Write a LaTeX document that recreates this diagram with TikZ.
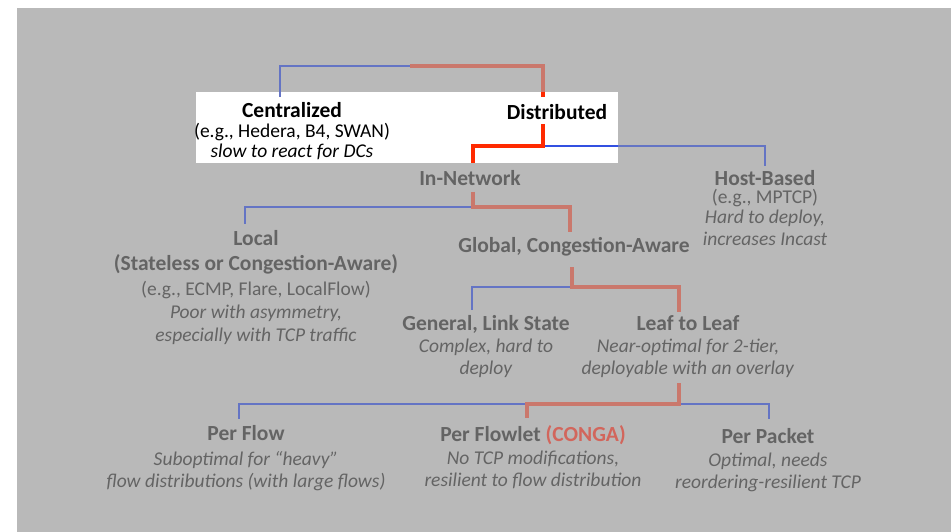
\documentclass[tikz,border=0pt]{standalone}
\usepackage{fontspec}
\setmainfont{Carlito}
\definecolor{slidegray}{RGB}{185,185,185}
\definecolor{dimtext}{RGB}{100,100,100}
\definecolor{dimred}{RGB}{202,120,108}
\definecolor{dimblue}{RGB}{100,116,196}
\definecolor{hotred}{RGB}{255,42,0}
\definecolor{hotblue}{RGB}{50,80,225}
% heading line of a label
\newcommand{\ttl}[1]{{\fontsize{21.5}{22}\selectfont\bfseries #1}}
\begin{document}
\begin{tikzpicture}[x=1pt,y=-1pt,
  lbl/.style={inner sep=0pt,align=center,text=dimtext,font=\fontsize{19.5}{22}\selectfont},
  hot/.style={lbl,text=black},
  chosen/.style={draw=dimred,line width=4pt},
  chosenhot/.style={draw=hotred,line width=4.5pt},
  other/.style={draw=dimblue,line width=1.4pt},
  otherhot/.style={draw=hotblue,line width=1.4pt}]
\useasboundingbox (0,0) rectangle (951,532);
\fill[white] (0,0) rectangle (951,532);
\fill[slidegray] (17,8) rectangle (951,532);

% junction points of the tree
\coordinate (t1) at (280,66);
\coordinate (t2) at (410,66);
\coordinate (t3) at (543,66);
\coordinate (cenTop) at (280,97);
\coordinate (distTop) at (543,97);
\coordinate (boxTop) at (543,92);
\coordinate (distBot) at (543,124);
\coordinate (d1) at (543,146);
\coordinate (d2) at (473,146);
\coordinate (boxEdge) at (618,146);
\coordinate (d3) at (765,146);
\coordinate (hostTop) at (765,166);
\coordinate (innetTop) at (473,163);
\coordinate (innetBot) at (473,192);
\coordinate (n1) at (473,207);
\coordinate (n2) at (570,207);
\coordinate (n3) at (245,207);
\coordinate (globalTop) at (570,232);
\coordinate (localTop) at (245,224);
\coordinate (globalBot) at (572,267);
\coordinate (g1) at (572,287);
\coordinate (g2) at (679,287);
\coordinate (g3) at (472,287);
\coordinate (leafTop) at (679,312);
\coordinate (generalTop) at (472,310);
\coordinate (leafBot) at (679,383);
\coordinate (l1) at (679,404);
\coordinate (l2) at (527,404);
\coordinate (l3) at (239,404);
\coordinate (l4) at (769,404);
\coordinate (flowletTop) at (527,418);
\coordinate (flowTop) at (239,419);
\coordinate (packetTop) at (769,419);

% connectors in the dimmed area
\path[other] (cenTop) -- (t1) -- (t2);
\path[chosen] (t2) -- (t3) -- (boxTop);
\path[other] (d1) -- (d3) -- (hostTop);
\path[other] (n1) -- (n3) -- (localTop);
\path[chosen] (innetBot) -- (n1) -- (n2) -- (globalTop);
\path[other] (g1) -- (g3) -- (generalTop);
\path[chosen] (globalBot) -- (g1) -- (g2) -- (leafTop);
\path[other] (l2) -- (l3) -- (flowTop);
\path[other] (l1) -- (l4) -- (packetTop);
\path[chosen] (leafBot) -- (l1) -- (l2) -- (flowletTop);

% highlighted top level
\fill[white] (196,92) rectangle (618,163);
\path[other] (t1) -- (cenTop);
\path[chosenhot] (boxTop) -- (distTop);
\path[otherhot] (d1) -- (boxEdge);
\path[chosenhot] (distBot) -- (d1) -- (d2) -- (innetTop);

% labels
\node[hot] (cen) at (292,131) {\ttl{Centralized}\\[-2pt](e.g., Hedera, B4, SWAN)\\[-2pt]\textit{slow to react for DCs}};
\node[hot] (dist) at (557,112) {\ttl{Distributed}};
\node[lbl] (innet) at (470,178) {\ttl{In-Network}};
\node[lbl] (host) at (765,208) {\ttl{Host-Based}\\[-4pt](e.g., MPTCP)\\[-2pt]\textit{Hard to deploy,}\\\textit{increases Incast}};
\node[lbl] (local) at (256,288) {\ttl{Local}\\[3pt]\ttl{(Stateless or Congestion-Aware)}\\[3pt](e.g., ECMP, Flare, LocalFlow)\\[1pt]\textit{Poor with asymmetry,}\\[1pt]\textit{especially with TCP traffic}};
\node[lbl] (global) at (574,247) {\ttl{Global, Congestion-Aware}};
\node[lbl] (general) at (486,347) {\ttl{General, Link State}\\\textit{Complex, hard to}\\\textit{deploy}};
\node[lbl] (leaf) at (688,347) {\ttl{Leaf to Leaf}\\\textit{Near-optimal for 2-tier,}\\\textit{deployable with an overlay}};
\node[lbl] (flow) at (246,458) {\ttl{Per Flow}\\[3pt]\textit{Suboptimal for “heavy”}\\\textit{flow distributions (with large flows)}};
\node[lbl] (flowlet) at (533,457) {\ttl{Per Flowlet \textcolor{dimred!85!red}{(CONGA)}}\\[1pt]\textit{No TCP modifications,}\\\textit{resilient to flow distribution}};
\node[lbl] (packet) at (768,460) {\ttl{Per Packet}\\[1pt]\textit{Optimal, needs}\\\textit{reordering-resilient TCP}};
\end{tikzpicture}
\end{document}
